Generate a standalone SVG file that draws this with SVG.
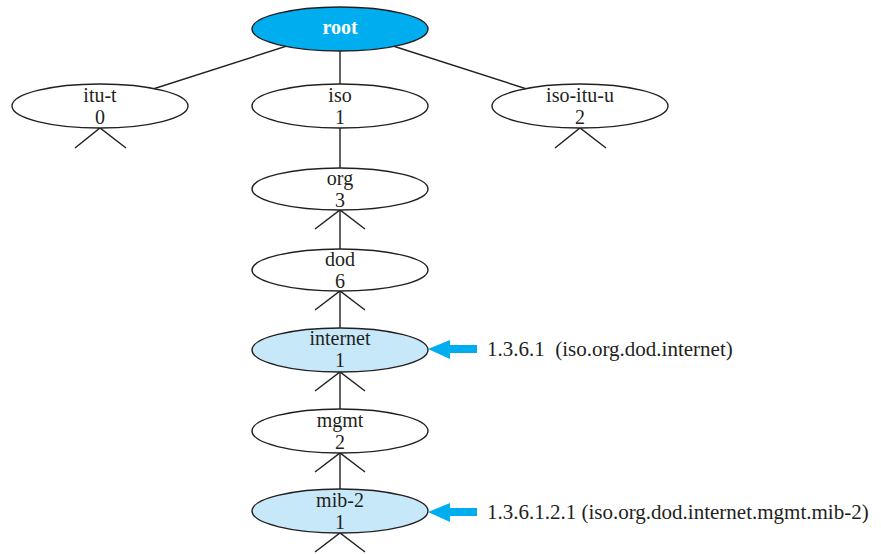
<svg xmlns="http://www.w3.org/2000/svg" width="881" height="554" viewBox="0 0 881 554">
<style>
.edge{stroke:#231f20;stroke-width:1.4;fill:none}
.node{stroke:#231f20;stroke-width:1.4;fill:#ffffff}
.hl{fill:#c7e8f8}
.rootn{fill:#00aeef}
.lbl{font-family:"Liberation Serif","Times New Roman",serif;font-size:20px;fill:#231f20;text-anchor:middle}
.rootl{font-family:"Liberation Serif","Times New Roman",serif;font-size:20px;font-weight:bold;fill:#ffffff;text-anchor:middle}
.note{font-family:"Liberation Serif","Times New Roman",serif;font-size:21px;fill:#231f20}
.arrow{fill:#00aeef}
</style>
<g id="connectors">
<line class="edge" x1="340" y1="29" x2="100" y2="106"/>
<line class="edge" x1="340" y1="29" x2="340" y2="106"/>
<line class="edge" x1="340" y1="29" x2="580" y2="106"/>
<line class="edge" x1="340" y1="106" x2="340" y2="511"/>
<path class="edge" d="M75,148 L100,128 L126,148"/>
<path class="edge" d="M555,148 L580,128 L606,148"/>
<path class="edge" d="M315,229 L340,210 L365,229"/>
<path class="edge" d="M315,310 L340,291 L365,310"/>
<path class="edge" d="M315,391 L340,372 L365,391"/>
<path class="edge" d="M315,472 L340,453 L365,472"/>
<path class="edge" d="M315,552 L340,533 L365,552"/>
</g>
<g id="root">
<ellipse class="node rootn" cx="340" cy="29" rx="88" ry="22"/>
<text class="rootl" x="340" y="34">root</text>
</g>
<g id="itu-t">
<ellipse class="node" cx="100" cy="106" rx="88" ry="22"/>
<text class="lbl" x="100" y="102">itu-t</text>
<text class="lbl" x="100" y="124">0</text>
</g>
<g id="iso">
<ellipse class="node" cx="340" cy="106" rx="88" ry="22"/>
<text class="lbl" x="340" y="102">iso</text>
<text class="lbl" x="340" y="124">1</text>
</g>
<g id="iso-itu-u">
<ellipse class="node" cx="580" cy="106" rx="88" ry="22"/>
<text class="lbl" x="580" y="102">iso-itu-u</text>
<text class="lbl" x="580" y="124">2</text>
</g>
<g id="org">
<ellipse class="node" cx="340" cy="189" rx="88" ry="21"/>
<text class="lbl" x="340" y="185">org</text>
<text class="lbl" x="340" y="207">3</text>
</g>
<g id="dod">
<ellipse class="node" cx="340" cy="270" rx="88" ry="21"/>
<text class="lbl" x="340" y="266">dod</text>
<text class="lbl" x="340" y="288">6</text>
</g>
<g id="internet">
<ellipse class="node hl" cx="340" cy="350" rx="88" ry="22"/>
<text class="lbl" x="340" y="345">internet</text>
<text class="lbl" x="340" y="367">1</text>
</g>
<g id="mgmt">
<ellipse class="node" cx="340" cy="431" rx="88" ry="22"/>
<text class="lbl" x="340" y="427">mgmt</text>
<text class="lbl" x="340" y="449">2</text>
</g>
<g id="mib-2">
<ellipse class="node hl" cx="340" cy="511" rx="88" ry="22"/>
<text class="lbl" x="340" y="507">mib-2</text>
<text class="lbl" x="340" y="529">1</text>
</g>
<g id="note-internet">
<path class="arrow" d="M428,349 L450,340 L450,345 L477,345 L477,353 L450,353 L450,359 Z"/>
<text class="note" x="487" y="356" xml:space="preserve">1.3.6.1  (iso.org.dod.internet)</text>
</g>
<g id="note-mib2">
<path class="arrow" d="M428,512 L450,503 L450,508 L477,508 L477,516 L450,516 L450,522 Z"/>
<text class="note" x="487" y="519">1.3.6.1.2.1 (iso.org.dod.internet.mgmt.mib-2)</text>
</g>
</svg>
